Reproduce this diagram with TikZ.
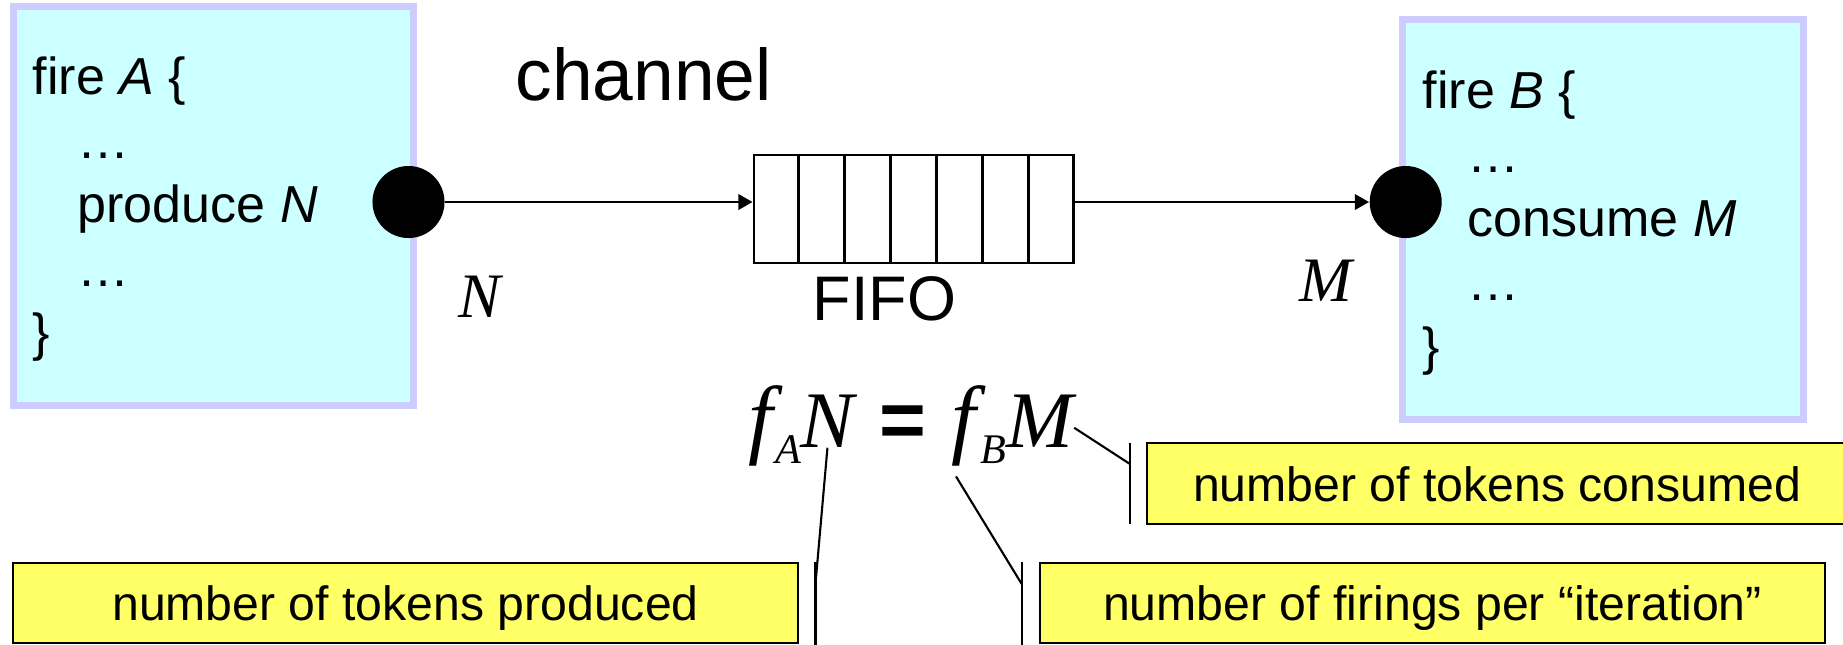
\documentclass[tikz,border=0pt]{standalone}
\usepackage{fontspec}
\setmainfont{Liberation Sans}
\newfontfamily\timesfont{Liberation Serif}
\usetikzlibrary{calc,arrows.meta}
\definecolor{actorfill}{HTML}{CCFFFF}
\definecolor{actorline}{HTML}{CCCCFF}
\definecolor{notefill}{HTML}{FFFF66}
\newcommand{\ind}{\hspace*{12.8pt}}
\newcommand{\subtext}[1]{\raisebox{-4.6pt}{\fontsize{12}{14}\selectfont #1}}
\begin{document}
\begin{tikzpicture}[x=0.01cm,y=-0.01cm,>={Triangle[length=4pt,width=4.4pt]}]
        % Styles
        \tikzstyle{actor box}=[draw=actorline,line width=2pt,fill=actorfill,inner sep=0pt]
        \tikzstyle{port}=[circle,fill=black,inner sep=0pt,minimum size=0.72cm]
        \tikzstyle{queue}=[draw,line width=0.8pt,inner sep=0pt,minimum width=3.19cm,minimum height=1.08cm]
        \tikzstyle{code text}=[align=left,inner sep=0pt,font=\fontsize{14.8}{18.2}\selectfont]
        \tikzstyle{math text}=[inner sep=0pt,font=\timesfont\itshape\fontsize{22.8}{24}\selectfont]
        \tikzstyle{big math}=[inner sep=0pt,font=\timesfont\itshape\fontsize{25}{26}\selectfont]
        \tikzstyle{port label}=[inner sep=0pt,font=\timesfont\itshape\fontsize{18}{20}\selectfont]
        \tikzstyle{note box}=[draw,line width=0.7pt,fill=notefill,inner sep=0pt,minimum height=0.8cm,text height=10pt,text depth=0pt,font=\fontsize{13.7}{16}\selectfont]
        \tikzstyle{leader}=[line width=0.6pt]
        \useasboundingbox (0,0) rectangle (1843,644);
        %actors
        \node[actor box,minimum width=4cm,minimum height=3.99cm] (A) at (213.5,206) {};
        \node[actor box,minimum width=4.005cm,minimum height=3.995cm] (B) at (1602.75,219.25) {};
        \node[code text,anchor=north west] (codeA) at (32,56) {fire \textit{A} \{\\ \ind …\\ \ind produce \textit{N}\\ \ind …\\ \}};
        \node[code text,anchor=north west] (codeB) at (1422,70) {fire \textit{B} \{\\ \ind …\\ \ind consume \textit{M}\\ \ind …\\ \}};
        \node[port] (dotA) at (408.5,202) {};
        \node[port] (dotB) at (1405.7,202) {};
        %channel
        \node[queue] (fifo) at (913.5,209) {};
        \foreach \i in {1,...,6}
            \draw[line width=0.8pt] ($(fifo.north west)!\i/7!(fifo.north east)$) -- ($(fifo.south west)!\i/7!(fifo.south east)$);
        \draw[->,line width=0.6pt] (dotA) -- (dotA -| fifo.west);
        \draw[->,line width=0.6pt] (fifo.east |- dotB) -- (dotB);
        \node[inner sep=0pt,anchor=base west,font=\fontsize{20.8}{24}\selectfont] (chan) at (515,100) {channel};
        \node[inner sep=0pt,anchor=base west,font=\fontsize{17.9}{20}\selectfont] (fifolabel) at (812,320) {FIFO};
        \node[port label,anchor=base west] (labN) at (458,317) {N};
        \node[port label,anchor=base west] (labM) at (1299,301) {M};
        %balance equation
        \node[big math,anchor=base west] (fA) at (748,447) {f\hspace{0.8pt}\subtext{A}};
        \node[math text,anchor=base west] (nN) at (800,447) {N};
        \node[inner sep=0pt,anchor=base west,font=\bfseries\fontsize{22.8}{24}\selectfont] (eqs) at (879,447) {=};
        \node[big math,anchor=base west] (fB) at (951,447) {f\hspace{1.2pt}\subtext{B}};
        \node[math text,anchor=base west] (nM) at (1006,447) {M};
        %notes
        \node[note box,minimum width=7.85cm] (prod) at (405.5,603) {number of tokens produced};
        \node[note box,minimum width=7.85cm] (iter) at (1432.5,603) {number of firings per “iteration”};
        \node[note box,minimum width=7cm,minimum height=0.81cm] (cons) at (1497,483.5) {number of tokens consumed};
        \coordinate (prodtick) at ($(prod.north east)+(16,22)$);
        \coordinate (itertick) at ($(iter.north west)+(-17,22)$);
        \coordinate (constick) at ($(cons.north west)+(-16,22)$);
        \draw[leader] ($(prod.north east)+(16,0)$) -- ($(prod.south east)+(16,10)$);
        \draw[leader] ($(iter.north west)+(-17,0)$) -- ($(iter.south west)+(-17,10)$);
        \draw[leader] ($(cons.north west)+(-16,1)$) -- ($(cons.south west)+(-16,-1)$);
        \draw[leader] (nN.south) -- (prodtick);
        \draw[leader] ($(fB.south west)+(5,10)$) -- (itertick);
        \draw[leader] ($(nM.east)+(0,7)$) -- (constick);
\end{tikzpicture}
\end{document}
